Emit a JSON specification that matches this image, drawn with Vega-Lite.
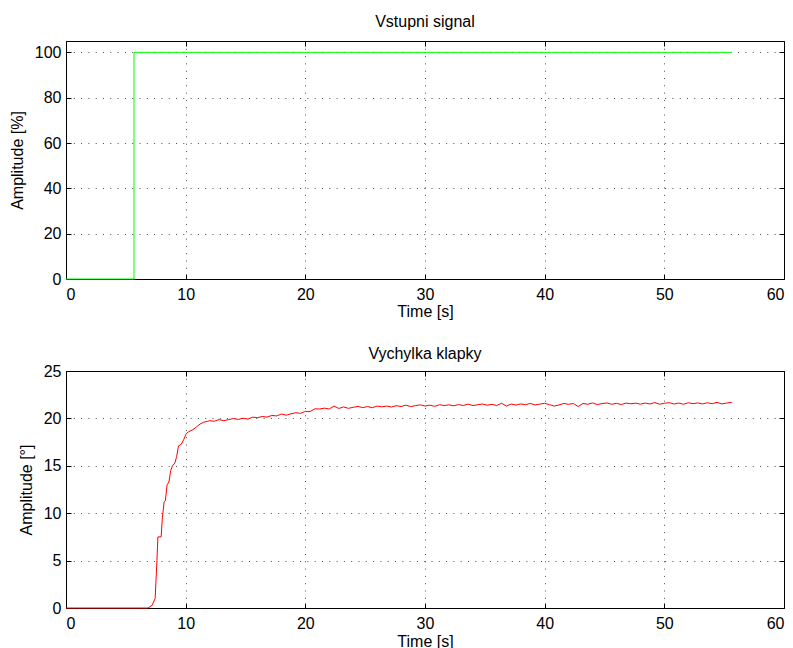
{
  "$schema": "https://vega.github.io/schema/vega-lite/v6.json",
  "padding": {"left": 8, "top": 13, "right": 5, "bottom": 5},
  "background": "white",
  "spacing": 92,
  "bounds": "flush",
  "config": {
    "font": "Liberation Sans",
    "view": {"stroke": "#000", "strokeWidth": 1},
    "axis": {
      "domain": false,
      "tickColor": "#000",
      "tickSize": -5,
      "tickWidth": 1,
      "labelFont": "Liberation Sans",
      "labelFontSize": 16,
      "labelColor": "#000",
      "labelPadding": 10,
      "titleFont": "Liberation Sans",
      "titleFontSize": 16,
      "titleFontWeight": "normal",
      "titleColor": "#000",
      "gridColor": "#000",
      "gridDash": [1, 6.3],
      "gridOpacity": 0.7,
      "gridWidth": 1
    },
    "title": {"font": "Liberation Sans", "fontSize": 16, "fontWeight": "normal", "color": "#000", "offset": 11}
  },
  "vconcat": [
    {
      "width": 718,
      "height": 238,
      "title": {"text": "Vstupni signal", "offset": 11},
      "data": {"values": [
        {"t": 0, "a": 0},
        {"t": 5.68, "a": 100},
        {"t": 55.65, "a": 100}
      ]},
      "layer": [
        {
          "mark": {"type": "line", "color": "#00ff00", "strokeWidth": 1, "interpolate": "step-after"},
          "encoding": {
            "x": {"field": "t", "type": "quantitative", "scale": {"domain": [0, 60], "nice": false},
                  "axis": {"title": "Time [s]", "values": [0, 10, 20, 30, 40, 50, 60], "grid": true, "labelPadding": 12, "titlePadding": 1}},
            "y": {"field": "a", "type": "quantitative", "scale": {"domain": [0, 105], "nice": false},
                  "axis": {"title": "Amplitude [%]", "values": [0, 20, 40, 60, 80, 100], "grid": true, "titlePadding": 9}}
          }
        },
        {
          "mark": {"type": "line", "opacity": 0},
          "encoding": {
            "x": {"field": "t", "type": "quantitative", "scale": {"domain": [0, 60], "nice": false},
                  "axis": {"orient": "top", "labels": false, "title": null, "grid": false, "values": [0, 10, 20, 30, 40, 50, 60]}},
            "y": {"field": "a", "type": "quantitative", "scale": {"domain": [0, 105], "nice": false},
                  "axis": {"orient": "right", "labels": false, "title": null, "grid": false, "values": [0, 20, 40, 60, 80, 100]}}
          }
        }
      ],
      "resolve": {"axis": {"x": "independent", "y": "independent"}}
    },
    {
      "width": 718,
      "height": 237,
      "title": {"text": "Vychylka klapky", "offset": 1},
      "data": {"values": [
        {"t": 0, "a": 0}, {"t": 6.85, "a": 0}, {"t": 7.2, "a": 0.3}, {"t": 7.45, "a": 1.0}, {"t": 7.6, "a": 5.0},
        {"t": 7.68, "a": 7.5}, {"t": 7.95, "a": 7.5}, {"t": 8.05, "a": 9.5}, {"t": 8.2, "a": 11.2}, {"t": 8.3, "a": 11.3},
        {"t": 8.45, "a": 13.0}, {"t": 8.6, "a": 13.3}, {"t": 8.75, "a": 14.5}, {"t": 8.9, "a": 15.0}, {"t": 9.1, "a": 15.3},
        {"t": 9.25, "a": 16.0}, {"t": 9.4, "a": 17.1}, {"t": 9.65, "a": 17.3}, {"t": 9.85, "a": 17.8}, {"t": 10.05, "a": 18.4},
        {"t": 10.25, "a": 18.6}, {"t": 10.6, "a": 18.8}, {"t": 10.9, "a": 19.1}, {"t": 11.2, "a": 19.4}, {"t": 11.5, "a": 19.6},
        {"t": 11.8, "a": 19.68},
        {"t": 12.0, "a": 19.76}, {"t": 12.4, "a": 19.70}, {"t": 12.8, "a": 19.88}, {"t": 13.2, "a": 19.75}, {"t": 13.6, "a": 19.88},
        {"t": 14.0, "a": 19.99}, {"t": 14.4, "a": 19.89}, {"t": 14.8, "a": 20.02}, {"t": 15.2, "a": 19.93}, {"t": 15.6, "a": 20.13},
        {"t": 16.0, "a": 20.08}, {"t": 16.4, "a": 20.20}, {"t": 16.8, "a": 20.14}, {"t": 17.2, "a": 20.31}, {"t": 17.6, "a": 20.26},
        {"t": 18.0, "a": 20.46}, {"t": 18.4, "a": 20.34}, {"t": 18.8, "a": 20.48}, {"t": 19.2, "a": 20.60}, {"t": 19.6, "a": 20.53},
        {"t": 20.0, "a": 20.74}, {"t": 20.4, "a": 20.73}, {"t": 20.8, "a": 21.01}, {"t": 21.2, "a": 20.99}, {"t": 21.6, "a": 21.08},
        {"t": 22.0, "a": 20.99}, {"t": 22.4, "a": 21.30}, {"t": 22.8, "a": 21.05}, {"t": 23.2, "a": 21.21}, {"t": 23.6, "a": 21.06},
        {"t": 24.0, "a": 21.17}, {"t": 24.4, "a": 21.26}, {"t": 24.8, "a": 21.14}, {"t": 25.2, "a": 21.25}, {"t": 25.6, "a": 21.13},
        {"t": 26.0, "a": 21.30}, {"t": 26.4, "a": 21.22}, {"t": 26.8, "a": 21.30}, {"t": 27.2, "a": 21.20}, {"t": 27.6, "a": 21.34},
        {"t": 28.0, "a": 21.25}, {"t": 28.4, "a": 21.40}, {"t": 28.8, "a": 21.24}, {"t": 29.2, "a": 21.35}, {"t": 29.6, "a": 21.43},
        {"t": 30.0, "a": 21.30}, {"t": 30.4, "a": 21.40}, {"t": 30.8, "a": 21.27}, {"t": 31.2, "a": 21.44}, {"t": 31.6, "a": 21.36},
        {"t": 32.0, "a": 21.43}, {"t": 32.4, "a": 21.33}, {"t": 32.8, "a": 21.46}, {"t": 33.2, "a": 21.36}, {"t": 33.6, "a": 21.51},
        {"t": 34.0, "a": 21.35}, {"t": 34.4, "a": 21.44}, {"t": 34.8, "a": 21.52}, {"t": 35.2, "a": 21.39}, {"t": 35.6, "a": 21.48},
        {"t": 36.0, "a": 21.36}, {"t": 36.4, "a": 21.60}, {"t": 36.8, "a": 21.30}, {"t": 37.2, "a": 21.51}, {"t": 37.6, "a": 21.41},
        {"t": 38.0, "a": 21.53}, {"t": 38.4, "a": 21.44}, {"t": 38.8, "a": 21.58}, {"t": 39.2, "a": 21.42}, {"t": 39.6, "a": 21.51},
        {"t": 40.0, "a": 21.59}, {"t": 40.4, "a": 21.45}, {"t": 40.8, "a": 21.30}, {"t": 41.2, "a": 21.42}, {"t": 41.6, "a": 21.58},
        {"t": 42.0, "a": 21.49}, {"t": 42.4, "a": 21.57}, {"t": 42.8, "a": 21.25}, {"t": 43.2, "a": 21.58}, {"t": 43.6, "a": 21.49},
        {"t": 44.0, "a": 21.63}, {"t": 44.4, "a": 21.46}, {"t": 44.8, "a": 21.56}, {"t": 45.2, "a": 21.63}, {"t": 45.6, "a": 21.49},
        {"t": 46.0, "a": 21.59}, {"t": 46.4, "a": 21.46}, {"t": 46.8, "a": 21.62}, {"t": 47.2, "a": 21.54}, {"t": 47.6, "a": 21.61},
        {"t": 48.0, "a": 21.50}, {"t": 48.4, "a": 21.62}, {"t": 48.8, "a": 21.52}, {"t": 49.2, "a": 21.67}, {"t": 49.6, "a": 21.50},
        {"t": 50.0, "a": 21.59}, {"t": 50.4, "a": 21.66}, {"t": 50.8, "a": 21.52}, {"t": 51.2, "a": 21.62}, {"t": 51.6, "a": 21.49},
        {"t": 52.0, "a": 21.65}, {"t": 52.4, "a": 21.56}, {"t": 52.8, "a": 21.63}, {"t": 53.2, "a": 21.53}, {"t": 53.6, "a": 21.65},
        {"t": 54.0, "a": 21.55}, {"t": 54.4, "a": 21.69}, {"t": 54.8, "a": 21.53}, {"t": 55.2, "a": 21.62}, {"t": 55.6, "a": 21.69},
        {"t": 55.65, "a": 21.62}
      ]},
      "layer": [
        {
          "mark": {"type": "line", "color": "#ff0000", "strokeWidth": 1},
          "encoding": {
            "x": {"field": "t", "type": "quantitative", "scale": {"domain": [0, 60], "nice": false},
                  "axis": {"title": "Time [s]", "values": [0, 10, 20, 30, 40, 50, 60], "grid": true, "labelPadding": 12, "titlePadding": 2}},
            "y": {"field": "a", "type": "quantitative", "scale": {"domain": [0, 25], "nice": false},
                  "axis": {"title": "Amplitude [°]", "values": [0, 5, 10, 15, 20, 25], "grid": true, "titlePadding": 9}}
          }
        },
        {
          "mark": {"type": "line", "opacity": 0},
          "encoding": {
            "x": {"field": "t", "type": "quantitative", "scale": {"domain": [0, 60], "nice": false},
                  "axis": {"orient": "top", "labels": false, "title": null, "grid": false, "values": [0, 10, 20, 30, 40, 50, 60]}},
            "y": {"field": "a", "type": "quantitative", "scale": {"domain": [0, 25], "nice": false},
                  "axis": {"orient": "right", "labels": false, "title": null, "grid": false, "values": [0, 5, 10, 15, 20, 25]}}
          }
        }
      ],
      "resolve": {"axis": {"x": "independent", "y": "independent"}}
    }
  ]
}
